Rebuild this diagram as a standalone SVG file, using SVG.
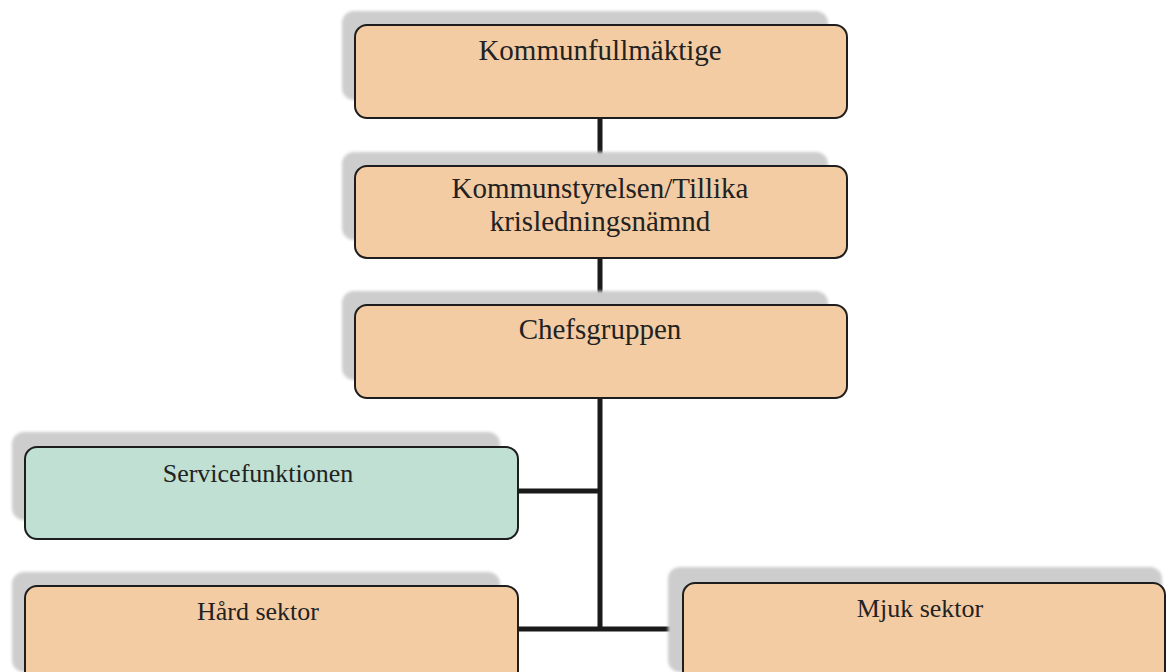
<svg xmlns="http://www.w3.org/2000/svg" width="1170" height="672" viewBox="0 0 1170 672">
  <style>
    .box { stroke: #1e1e1e; stroke-width: 2; }
    .orange { fill: #f4cca4; }
    .green { fill: #bfe0d2; }
    .shadow { fill: #cdcdcd; filter: url(#blur); }
    .lbl { font-family: "Liberation Serif", "Times New Roman", serif; font-size: 26px; fill: #222; text-anchor: middle; }
    .big { font-size: 29px; }
    .conn { stroke: #1a1a1a; stroke-width: 5; fill: none; }
  </style>
  <defs>
    <filter id="blur" x="-5%" y="-10%" width="110%" height="120%">
      <feGaussianBlur stdDeviation="1.5"/>
    </filter>
  </defs>
  <rect width="1170" height="672" fill="#ffffff"/>

  <g id="connectors">
    <line class="conn" x1="600" y1="118" x2="600" y2="166"/>
    <line class="conn" x1="600" y1="258" x2="600" y2="305"/>
    <line class="conn" x1="600" y1="398" x2="600" y2="631"/>
    <line class="conn" x1="518" y1="491" x2="602" y2="491"/>
    <line class="conn" x1="518" y1="629" x2="683" y2="629"/>
  </g>

  <g id="kommunfullmaktige">
    <rect class="shadow" x="342" y="11" width="486" height="89" rx="12"/>
    <rect class="box orange" x="355" y="25" width="492" height="93" rx="12"/>
    <text class="lbl big" x="600" y="60">Kommunfullmäktige</text>
  </g>

  <g id="kommunstyrelsen">
    <rect class="shadow" x="342" y="152" width="486" height="88" rx="12"/>
    <rect class="box orange" x="355" y="166" width="492" height="92" rx="12"/>
    <text class="lbl big" x="600" y="198">Kommunstyrelsen/Tillika</text>
    <text class="lbl big" x="600" y="231">krisledningsnämnd</text>
  </g>

  <g id="chefsgruppen">
    <rect class="shadow" x="342" y="291" width="486" height="89" rx="12"/>
    <rect class="box orange" x="355" y="305" width="492" height="93" rx="12"/>
    <text class="lbl big" x="600" y="339">Chefsgruppen</text>
  </g>

  <g id="servicefunktionen">
    <rect class="shadow" x="12" y="432" width="488" height="88" rx="12"/>
    <rect class="box green" x="25" y="447" width="493" height="92" rx="12"/>
    <text class="lbl" x="258" y="482">Servicefunktionen</text>
  </g>

  <g id="hard-sektor">
    <rect class="shadow" x="12" y="572" width="488" height="100" rx="12"/>
    <rect class="box orange" x="25" y="586" width="493" height="98" rx="12"/>
    <text class="lbl" x="258" y="620">Hård sektor</text>
  </g>

  <g id="mjuk-sektor">
    <rect class="shadow" x="668" y="567" width="494" height="105" rx="12"/>
    <rect class="box orange" x="683" y="583" width="482" height="100" rx="12"/>
    <text class="lbl" x="920" y="617">Mjuk sektor</text>
  </g>
</svg>
